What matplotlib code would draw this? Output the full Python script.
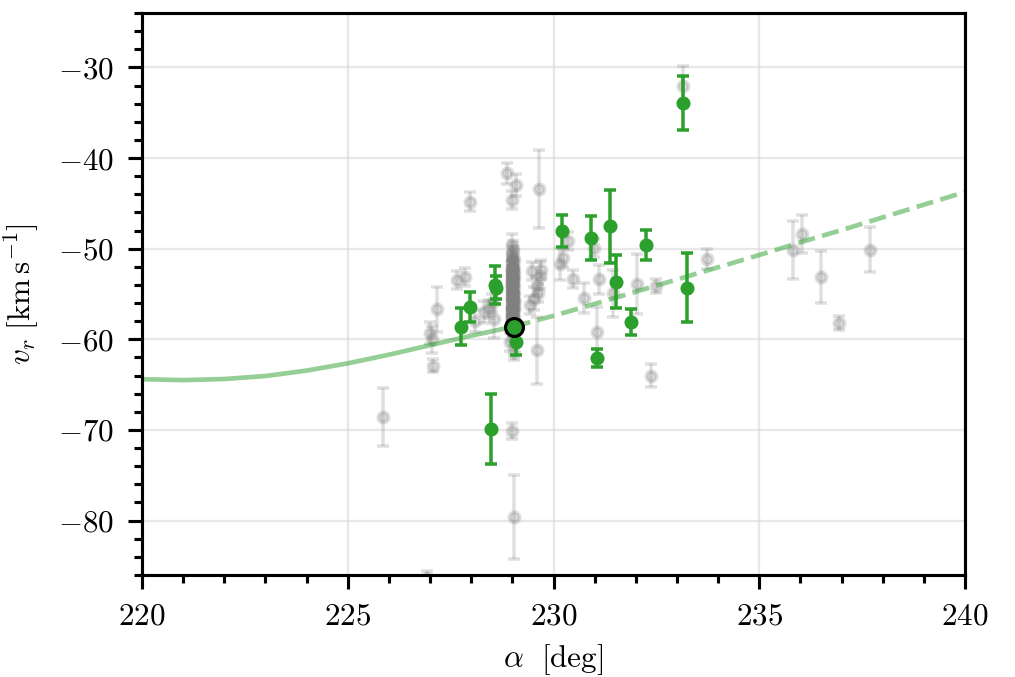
import matplotlib
matplotlib.use("Agg")
import matplotlib.pyplot as plt
from matplotlib.ticker import MultipleLocator

plt.rcParams.update({
    "font.family": "serif",
    "font.serif": ["cmr10"],
    "mathtext.fontset": "cm",
    "axes.formatter.use_mathtext": True,
    "font.size": 8,
    "axes.linewidth": 0.8,
})

# --- data ---
# scattered field stars (grey)
gray_ra = [228.87, 229.08, 229.00, 229.65, 227.97, 227.85, 227.65, 227.18, 227.00, 227.05,
           227.06, 228.55, 228.43, 228.10, 229.47, 229.67, 229.59, 229.63, 229.43, 229.60,
           228.94, 229.05, 230.16, 230.24, 230.36, 230.48, 230.74, 230.98, 231.11, 231.05,
           231.45, 232.02, 232.50, 232.36, 233.74, 233.15, 235.83, 236.03, 236.50, 236.94,
           237.70, 225.86, 228.99, 229.04, 226.93, 228.30, 228.50, 229.52, 229.70]
gray_vr = [-41.7, -43.0, -44.6, -43.4, -44.8, -53.1, -53.5, -56.7, -59.3, -60.0,
           -62.9, -57.8, -56.7, -58.0, -52.5, -53.0, -54.1, -54.9, -56.2, -61.2,
           -60.3, -61.5, -51.7, -51.0, -49.2, -53.3, -55.4, -49.9, -53.4, -59.2,
           -54.9, -53.9, -54.1, -64.0, -51.1, -32.0, -50.2, -48.4, -53.1, -58.2,
           -50.1, -68.55, -70.1, -79.6, -86.3, -57.0, -56.0, -55.5, -52.3]
gray_err = [1.2, 1.2, 1.0, 4.3, 1.0, 1.0, 1.0, 2.45, 1.2, 1.5,
            0.7, 2.0, 1.0, 1.2, 1.0, 1.5, 1.0, 1.0, 1.0, 3.7,
            1.0, 0.8, 1.8, 1.0, 1.0, 1.0, 1.65, 1.0, 1.6, 2.8,
            2.6, 3.3, 0.8, 1.25, 1.1, 2.1, 3.2, 2.1, 2.85, 0.8,
            2.5, 3.2, 0.9, 4.65, 0.7, 1.2, 1.0, 1.3, 1.0]

# dense grey column of stars at alpha ~ 229 deg
col_ra = [229.00, 229.02, 228.99, 229.01, 229.03, 228.98, 229.00, 229.02, 228.99, 229.01,
          229.03, 228.98, 229.00, 229.02, 228.99, 229.01, 229.03, 228.98, 229.00, 229.02,
          228.99, 229.01, 229.03, 228.98, 229.00, 229.02, 228.99, 229.01, 229.03, 228.98,
          229.00, 229.02, 228.99, 229.01, 229.03, 228.98, 229.00, 229.02, 228.99, 229.01,
          229.03, 228.98, 229.00, 229.02, 228.99, 229.01, 229.03, 228.98, 229.00, 229.02,
          228.99, 229.01, 229.03, 228.98, 229.00, 229.02, 228.99, 229.01, 229.03, 228.98,
          229.00, 229.02, 228.99, 229.01, 229.03, 228.98]
col_vr = [-49.6, -50.1, -50.5, -50.9, -51.2, -51.4, -51.6, -51.8, -52.0, -52.1,
          -52.3, -52.4, -52.6, -52.7, -52.9, -53.0, -53.2, -53.3, -53.5, -53.6,
          -53.8, -53.9, -54.1, -54.2, -54.4, -54.5, -54.7, -54.8, -55.0, -55.1,
          -55.3, -55.4, -55.6, -55.7, -55.9, -56.0, -56.2, -56.3, -56.5, -56.6,
          -56.8, -56.9, -57.1, -57.2, -57.4, -57.5, -57.7, -57.8, -58.0, -58.1,
          -58.3, -58.5, -58.8, -59.2, -52.2, -53.1, -54.0, -54.9, -55.8, -56.7,
          -57.6, -52.8, -53.7, -55.5, -56.4, -57.3]
col_err = [1.2, 1.0, 0.9, 1.1, 1.0, 0.8, 1.2, 0.9, 1.0, 1.1,
           0.9, 1.0, 1.2, 0.8, 1.0, 1.1, 0.9, 1.0, 1.2, 0.9,
           1.0, 1.1, 0.8, 1.0, 1.2, 0.9, 1.0, 1.1, 0.9, 1.0,
           1.2, 0.8, 1.0, 1.1, 0.9, 1.0, 1.2, 0.9, 1.0, 1.1,
           0.8, 1.0, 1.2, 0.9, 1.0, 1.1, 0.9, 1.0, 1.2, 0.9,
           1.0, 1.1, 0.8, 1.0, 1.0, 0.9, 1.1, 1.0, 0.9, 1.2,
           1.0, 0.9, 1.1, 1.0, 0.9, 1.0]

# member stars (green)
green_ra = [233.15, 230.21, 230.91, 231.38, 231.52, 232.26, 231.89, 231.06, 233.25,
            229.09, 228.58, 228.60, 227.98, 227.74, 228.49]
green_vr = [-33.9, -48.1, -48.8, -47.55, -53.65, -49.57, -58.07, -62.1, -54.3,
            -60.27, -54.0, -54.3, -56.4, -58.6, -69.9]
green_err = [3.0, 1.77, 2.46, 4.0, 2.92, 1.66, 1.43, 1.0, 3.83,
             1.48, 2.1, 1.3, 1.66, 2.06, 3.86]

# progenitor
prog_ra = [229.03]
prog_vr = [-58.6]

# model track
curve_ra = [220, 221, 222, 223, 224, 225, 226, 227, 228, 229.03,
            230, 231, 232, 233, 234, 235, 236, 237, 238, 239, 240]
curve_vr = [-64.4, -64.5, -64.38, -64.05, -63.45, -62.65, -61.7, -60.65, -59.6, -58.6,
            -57.4, -56.1, -54.75, -53.4, -52.05, -50.7, -49.3, -47.95, -46.55, -45.15, -43.75]

# --- figure ---
fig = plt.figure(figsize=(1015 / 280, 677 / 280), dpi=280)
ax = fig.add_axes([142 / 1015, 1 - 575 / 677, (965 - 142) / 1015, (575 - 13) / 677])

green = "#2ca02c"
split = curve_ra.index(prog_ra[0])
ax.plot(curve_ra[:split + 1], curve_vr[:split + 1], color=green, alpha=0.5, lw=1.2,
        solid_capstyle="butt", zorder=2)
ax.plot(curve_ra[split:], curve_vr[split:], color=green, alpha=0.5, lw=1.2,
        ls="--", zorder=2)

eb_kw = dict(fmt="o", color="gray", ms=2.6, elinewidth=0.9, capsize=1.6,
             capthick=0.9, alpha=0.25, zorder=1)
ax.errorbar(gray_ra, gray_vr, yerr=gray_err, **eb_kw)
ax.errorbar(col_ra, col_vr, yerr=col_err, **eb_kw)
ax.errorbar(green_ra, green_vr, yerr=green_err, fmt="o", color=green, ms=2.6,
            elinewidth=0.9, capsize=1.6, capthick=0.9, zorder=3)
ax.plot(prog_ra, prog_vr, "o", color=green, mec="black", mew=0.8, ms=4.6, zorder=4)

ax.set_xlim(220, 240)
ax.set_ylim(-86, -24)
ax.xaxis.set_major_locator(MultipleLocator(5))
ax.xaxis.set_minor_locator(MultipleLocator(1))
ax.yaxis.set_major_locator(MultipleLocator(10))
ax.yaxis.set_minor_locator(MultipleLocator(2))
ax.tick_params(which="both", direction="out", top=False, right=False, width=0.8)
ax.tick_params(which="major", length=3.6)
ax.tick_params(which="minor", length=2.1)
ax.grid(True, which="major", color="lightgray", alpha=0.5, lw=0.6)
ax.set_axisbelow(True)

ax.set_xlabel(r"$\alpha\ \ [\mathrm{deg}]$", labelpad=3)
ax.set_ylabel(r"$v_r\ [\mathrm{km\,s^{-1}}]$", labelpad=4.5)

fig.savefig("out.png", dpi=280)
